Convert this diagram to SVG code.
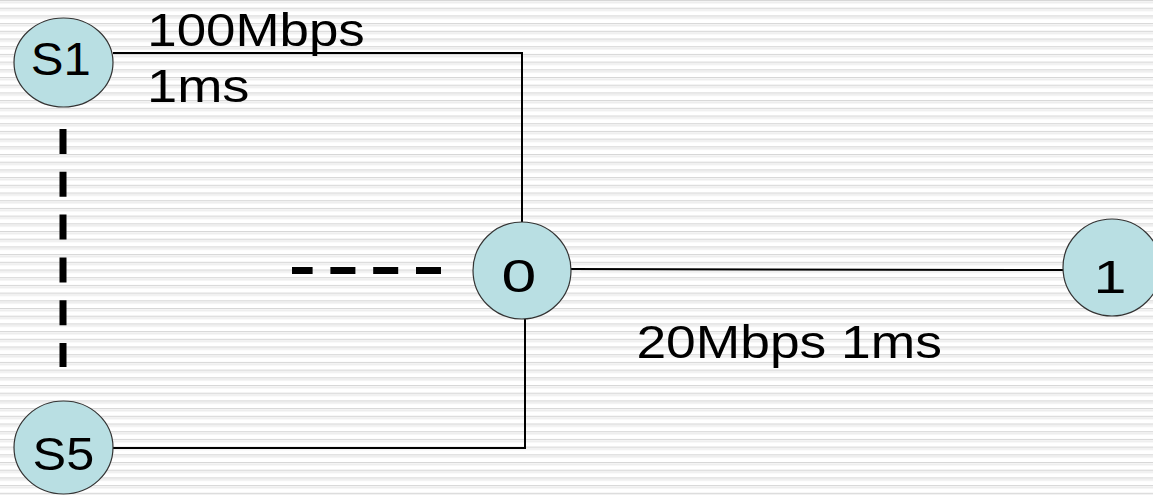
<svg xmlns="http://www.w3.org/2000/svg" width="1153" height="495" viewBox="0 0 1153 495">
  <style>
    .node { fill: #b9dfe3; stroke: #333333; stroke-width: 1.2; }
    .lbl { font-family: "Liberation Sans", Arial, sans-serif; font-size: 46px; fill: #000000; }
    .link { fill: none; stroke: #000000; stroke-width: 2; }
    .dash { fill: none; stroke: #000000; stroke-width: 7; stroke-dasharray: 25 17.8; }
  </style>
  <defs>
    <pattern id="stripes" patternUnits="userSpaceOnUse" width="20" height="7.7">
      <rect x="0" y="0" width="20" height="7.7" fill="#ffffff"/>
      <rect x="0" y="0" width="20" height="1.2" fill="#d6d6d6"/>
      <rect x="0" y="2.2" width="20" height="1" fill="#e6e6e6"/>
    </pattern>
  </defs>
  <rect x="0" y="0" width="1153" height="495" fill="url(#stripes)"/>

  <g id="connectors">
    <polyline class="link" points="113,53 522,53 522,222"/>
    <line class="link" x1="571" y1="269" x2="1063" y2="270"/>
    <polyline class="link" points="113,448 525,448 525,319"/>
    <line class="dash" x1="63" y1="129" x2="63" y2="367"/>
    <line class="dash" x1="441" y1="270.5" x2="292" y2="270.5"/>
  </g>

  <g id="labels">
    <text class="lbl" x="147.3" y="45.5" textLength="217.5" lengthAdjust="spacingAndGlyphs">100Mbps</text>
    <text class="lbl" x="147" y="102" textLength="102.5" lengthAdjust="spacingAndGlyphs">1ms</text>
    <text class="lbl" x="636.4" y="358" textLength="305.5" lengthAdjust="spacingAndGlyphs">20Mbps 1ms</text>
  </g>

  <g id="node-S1">
    <ellipse class="node" cx="63.5" cy="62.5" rx="49.5" ry="44.5"/>
    <text class="lbl" x="30.7" y="75" textLength="60" lengthAdjust="spacingAndGlyphs">S1</text>
  </g>
  <g id="node-S5">
    <ellipse class="node" cx="63.5" cy="447.5" rx="49.5" ry="46.5"/>
    <text class="lbl" x="32.6" y="470" textLength="61.6" lengthAdjust="spacingAndGlyphs">S5</text>
  </g>
  <g id="node-0">
    <ellipse class="node" cx="522" cy="270.5" rx="49" ry="48.5"/>
    <text class="lbl" x="501.4" y="292" textLength="34.8" lengthAdjust="spacingAndGlyphs">0</text>
  </g>
  <g id="node-1">
    <ellipse class="node" cx="1112" cy="267.5" rx="49" ry="48.5"/>
    <text class="lbl" x="1093.5" y="293" textLength="33" lengthAdjust="spacingAndGlyphs">1</text>
  </g>
</svg>
